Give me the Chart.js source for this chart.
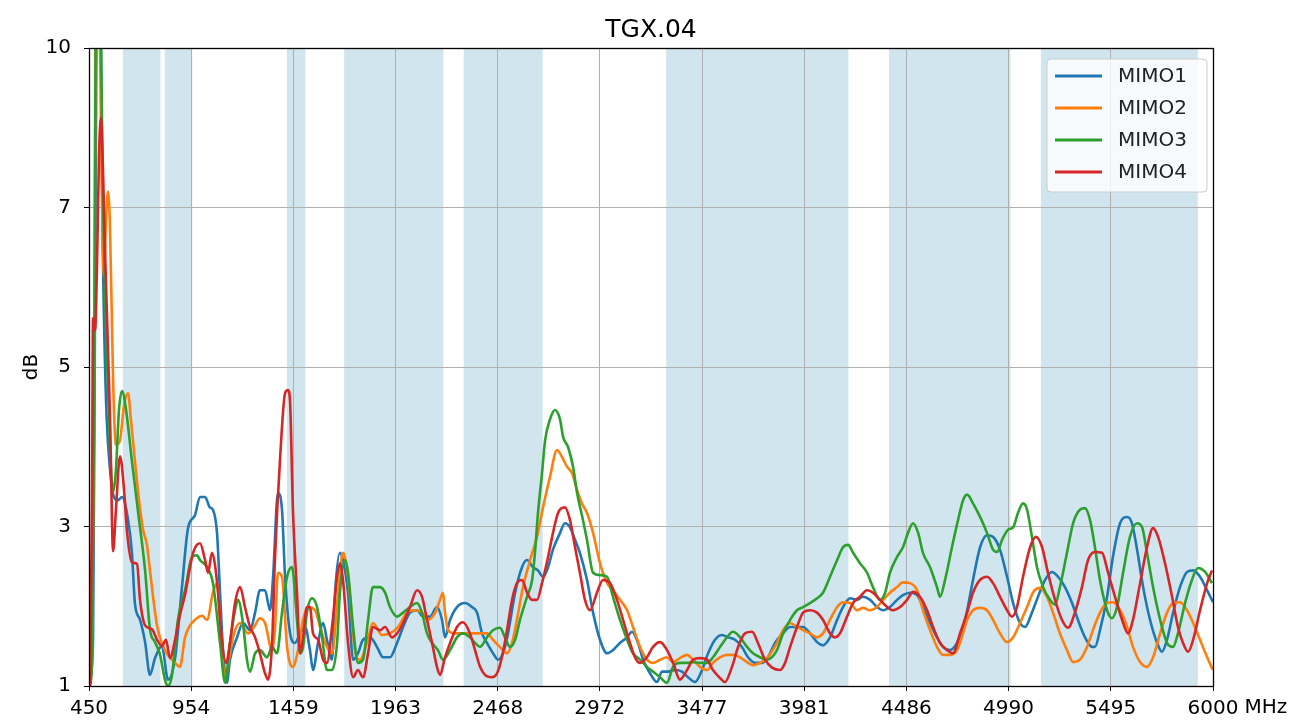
<!DOCTYPE html>
<html>
<head>
<meta charset="utf-8">
<title>TGX.04</title>
<script src="https://cdn.jsdelivr.net/npm/chart.js@4.4.1/dist/chart.umd.min.js"></script>
<style>
  html, body { margin: 0; padding: 0; background: #fff; }
  canvas { display: block; }
</style>
</head>
<body>
<canvas id="myChart" width="1310" height="722"></canvas>
<script>
// axis ticks (y ticks are evenly spaced in the original plot)
const xTicks = [450, 954, 1459, 1963, 2468, 2972, 3477, 3981, 4486, 4990, 5495, 6000];
const yTicks = [1, 3, 5, 7, 10];

// shaded frequency bands, MHz
const bands = [[617, 803], [824, 960], [1427, 1518], [1710, 2200], [2300, 2690], [3300, 4200], [4400, 5000], [5150, 5925]];

const seriesNames = ['MIMO1', 'MIMO2', 'MIMO3', 'MIMO4'];
const seriesColors = ['#1f77b4', '#ff7f0e', '#2ca02c', '#d62728'];

// [MHz, dB]
const mimo1 = [[455,1.08],[470,1.58],[480,5.84],[490,11],[504,11],[519,6.34],[534,4.59],[554,3.71],[573,3.37],[593,3.33],[613,3.37],[643,3.08],[662,2.67],[677,2.03],[702,1.83],[727,1.55],[751,1.14],[776,1.35],[810,1.50],[840,1.08],[875,1.35],[909,2.24],[939,2.98],[973,3.14],[998,3.37],[1023,3.37],[1047,3.24],[1062,3.21],[1082,2.92],[1097,2.17],[1112,1.45],[1131,1.04],[1146,1.33],[1181,1.61],[1210,1.79],[1245,1.70],[1270,1.92],[1294,2.20],[1319,2.20],[1344,1.95],[1359,2.37],[1383,3.42],[1403,3.21],[1418,2.37],[1443,1.66],[1467,1.54],[1492,1.66],[1517,1.74],[1541,1.45],[1556,1.20],[1581,1.54],[1606,1.79],[1625,1.58],[1650,1.33],[1665,2.17],[1689,2.67],[1704,2.58],[1729,2.17],[1754,1.33],[1778,1.41],[1803,1.58],[1838,1.61],[1872,1.49],[1902,1.36],[1936,1.36],[1971,1.54],[2001,1.74],[2035,1.92],[2070,1.95],[2099,1.87],[2134,1.87],[2168,1.99],[2193,1.83],[2208,1.61],[2233,1.83],[2267,1.99],[2307,2.04],[2341,1.99],[2366,1.92],[2391,1.66],[2415,1.54],[2445,1.41],[2470,1.33],[2494,1.41],[2519,1.66],[2554,2.17],[2588,2.49],[2613,2.58],[2642,2.49],[2667,2.45],[2692,2.37],[2717,2.49],[2741,2.71],[2776,2.92],[2800,3.04],[2825,2.99],[2850,2.83],[2874,2.67],[2909,2.33],[2939,1.92],[2973,1.58],[3008,1.41],[3037,1.45],[3072,1.54],[3107,1.61],[3131,1.68],[3161,1.54],[3186,1.33],[3220,1.16],[3255,1.05],[3279,1.18],[3309,1.18],[3344,1.20],[3378,1.18],[3408,1.11],[3442,1.05],[3477,1.20],[3507,1.41],[3541,1.58],[3576,1.64],[3605,1.61],[3640,1.58],[3674,1.49],[3704,1.36],[3739,1.29],[3773,1.29],[3803,1.36],[3837,1.54],[3877,1.66],[3912,1.74],[3946,1.74],[3976,1.74],[4010,1.66],[4045,1.55],[4074,1.51],[4109,1.61],[4144,1.83],[4173,1.99],[4208,2.10],[4242,2.08],[4272,2.12],[4307,2.08],[4341,1.99],[4371,1.95],[4405,1.99],[4440,2.08],[4469,2.14],[4504,2.17],[4539,2.14],[4568,1.99],[4603,1.79],[4637,1.61],[4667,1.49],[4702,1.45],[4736,1.54],[4766,1.74],[4786,1.95],[4815,2.33],[4850,2.74],[4884,2.89],[4914,2.87],[4948,2.71],[4983,2.37],[5013,2.04],[5047,1.79],[5072,1.74],[5106,1.92],[5136,2.12],[5171,2.33],[5205,2.43],[5235,2.37],[5269,2.24],[5304,2.04],[5333,1.83],[5368,1.61],[5403,1.49],[5417,1.49],[5442,1.70],[5477,2.12],[5506,2.62],[5541,3.04],[5576,3.12],[5600,3.04],[5625,2.71],[5655,2.24],[5689,1.83],[5724,1.54],[5748,1.43],[5773,1.58],[5803,1.92],[5837,2.24],[5872,2.43],[5902,2.45],[5936,2.37],[5971,2.20],[6000,2.05]];

const mimo2 = [[455,1.18],[465,1.45],[475,4.59],[485,11],[499,11],[514,7.15],[524,6.14],[534,6.85],[544,7.30],[554,6.72],[569,4.84],[583,4.02],[603,4.08],[623,4.52],[643,4.67],[657,4.34],[677,3.82],[697,3.33],[717,2.96],[736,2.77],[751,2.45],[786,1.76],[825,1.45],[875,1.29],[899,1.24],[924,1.61],[949,1.76],[973,1.83],[1008,1.88],[1033,1.83],[1062,2.17],[1082,2.29],[1097,1.83],[1122,1.08],[1141,1.33],[1161,1.61],[1196,1.79],[1235,1.66],[1265,1.74],[1294,1.85],[1319,1.79],[1354,1.45],[1368,1.70],[1383,2.42],[1403,2.37],[1428,1.49],[1457,1.24],[1482,1.45],[1507,1.83],[1531,1.99],[1566,1.95],[1591,1.74],[1625,1.49],[1650,1.41],[1680,2.17],[1704,2.67],[1729,2.37],[1763,1.45],[1788,1.33],[1823,1.54],[1852,1.79],[1897,1.64],[1936,1.66],[1976,1.74],[2020,1.92],[2060,1.95],[2094,1.92],[2124,1.83],[2159,1.92],[2183,2.08],[2198,2.17],[2208,1.92],[2223,1.70],[2257,1.66],[2317,1.66],[2366,1.66],[2415,1.66],[2445,1.58],[2479,1.49],[2514,1.41],[2539,1.54],[2563,1.83],[2593,2.24],[2628,2.58],[2662,2.87],[2692,3.24],[2726,3.62],[2761,3.96],[2786,3.87],[2810,3.75],[2835,3.67],[2860,3.46],[2884,3.29],[2909,3.17],[2939,2.92],[2973,2.54],[3008,2.29],[3037,2.20],[3072,2.08],[3107,1.95],[3136,1.74],[3171,1.49],[3205,1.33],[3235,1.29],[3270,1.33],[3304,1.36],[3334,1.30],[3368,1.35],[3403,1.39],[3433,1.33],[3467,1.24],[3502,1.20],[3531,1.29],[3566,1.36],[3600,1.39],[3630,1.39],[3665,1.36],[3699,1.30],[3729,1.26],[3763,1.29],[3798,1.35],[3847,1.54],[3877,1.70],[3912,1.79],[3946,1.74],[3976,1.70],[4010,1.66],[4045,1.61],[4074,1.66],[4109,1.83],[4144,1.99],[4173,2.05],[4208,2.04],[4242,1.95],[4272,1.98],[4307,1.95],[4341,1.99],[4371,2.08],[4405,2.17],[4440,2.24],[4469,2.30],[4504,2.29],[4539,2.20],[4568,1.95],[4603,1.70],[4637,1.49],[4667,1.39],[4702,1.39],[4736,1.45],[4766,1.66],[4786,1.83],[4815,1.95],[4850,1.98],[4884,1.95],[4914,1.83],[4948,1.66],[4983,1.55],[5013,1.61],[5047,1.79],[5082,1.99],[5111,2.17],[5146,2.23],[5180,2.12],[5210,1.92],[5244,1.66],[5279,1.45],[5309,1.30],[5343,1.33],[5378,1.49],[5407,1.70],[5442,1.92],[5477,2.04],[5506,2.05],[5541,1.95],[5576,1.74],[5605,1.49],[5640,1.30],[5674,1.24],[5704,1.36],[5739,1.66],[5773,1.92],[5803,2.04],[5837,2.05],[5872,1.95],[5902,1.79],[5936,1.58],[5971,1.36],[6000,1.20]];

const mimo3 = [[455,1.00],[465,1.33],[475,4.59],[485,11],[504,11],[519,7.15],[534,5.46],[554,3.96],[569,3.43],[583,3.71],[598,4.46],[613,4.70],[633,4.46],[662,3.82],[692,3.19],[727,2.45],[751,1.71],[776,1.55],[801,1.39],[825,1.08],[840,1.00],[860,1.14],[889,1.83],[924,2.20],[959,2.62],[983,2.64],[998,2.58],[1033,2.49],[1062,2.29],[1097,1.54],[1122,1.04],[1146,1.54],[1171,1.95],[1186,2.08],[1210,1.79],[1230,1.33],[1245,1.18],[1270,1.41],[1294,1.45],[1329,1.36],[1354,1.49],[1378,1.41],[1403,1.92],[1428,2.37],[1452,2.49],[1477,1.83],[1492,1.41],[1507,1.49],[1526,1.92],[1551,2.10],[1576,1.99],[1601,1.61],[1625,1.20],[1650,1.20],[1675,1.54],[1689,2.17],[1714,2.58],[1729,2.42],[1754,1.74],[1778,1.29],[1803,1.33],[1828,1.83],[1852,2.24],[1887,2.24],[1912,2.17],[1936,1.99],[1971,1.87],[2001,1.92],[2035,1.99],[2070,2.04],[2094,1.92],[2119,1.66],[2144,1.54],[2173,1.45],[2198,1.33],[2233,1.45],[2267,1.61],[2297,1.66],[2331,1.61],[2356,1.54],[2381,1.49],[2415,1.61],[2445,1.70],[2479,1.73],[2504,1.61],[2529,1.49],[2554,1.58],[2578,1.83],[2613,2.12],[2638,2.33],[2652,2.67],[2667,3.17],[2687,3.67],[2702,4.08],[2726,4.34],[2751,4.46],[2776,4.34],[2791,4.12],[2815,4.00],[2840,3.75],[2860,3.42],[2884,3.14],[2909,2.83],[2939,2.42],[2973,2.39],[3008,2.37],[3037,2.12],[3072,1.83],[3107,1.58],[3136,1.41],[3171,1.33],[3205,1.24],[3235,1.18],[3270,1.11],[3304,1.04],[3334,1.24],[3368,1.29],[3403,1.29],[3433,1.30],[3467,1.29],[3502,1.29],[3531,1.36],[3566,1.49],[3600,1.61],[3630,1.68],[3665,1.61],[3699,1.49],[3729,1.41],[3763,1.36],[3798,1.33],[3847,1.45],[3877,1.66],[3912,1.83],[3946,1.95],[3976,1.99],[4010,2.04],[4045,2.10],[4074,2.17],[4109,2.37],[4144,2.58],[4173,2.74],[4198,2.77],[4223,2.67],[4257,2.54],[4292,2.42],[4321,2.24],[4356,2.08],[4381,2.17],[4405,2.42],[4440,2.62],[4469,2.74],[4494,2.92],[4519,3.04],[4544,2.92],[4568,2.67],[4603,2.49],[4637,2.24],[4652,2.12],[4677,2.33],[4711,2.74],[4741,3.08],[4766,3.33],[4786,3.40],[4815,3.29],[4850,3.12],[4884,2.92],[4914,2.71],[4934,2.68],[4958,2.83],[4988,2.96],[5013,2.99],[5037,3.17],[5062,3.29],[5082,3.21],[5106,2.87],[5131,2.49],[5161,2.24],[5195,2.08],[5220,2.02],[5244,2.24],[5279,2.67],[5309,3.04],[5343,3.21],[5368,3.23],[5393,3.08],[5417,2.74],[5442,2.33],[5477,1.95],[5501,1.85],[5526,1.99],[5556,2.42],[5590,2.87],[5625,3.04],[5650,2.99],[5674,2.67],[5704,2.24],[5739,1.83],[5773,1.54],[5803,1.49],[5827,1.66],[5862,2.04],[5896,2.33],[5926,2.48],[5961,2.43],[5995,2.29]];

const mimo4 = [[455,1.00],[465,3.33],[470,5.61],[480,5.46],[490,6.34],[499,7.90],[509,8.69],[519,7.71],[529,6.47],[544,5.21],[554,4.35],[569,2.69],[583,3.21],[603,3.88],[623,3.46],[638,2.93],[662,2.55],[687,2.53],[702,2.08],[727,1.76],[761,1.71],[786,1.58],[810,1.50],[830,1.58],[850,1.35],[875,1.58],[899,1.89],[924,2.14],[964,2.67],[998,2.79],[1023,2.58],[1038,2.42],[1057,2.67],[1072,2.52],[1087,2.17],[1107,1.54],[1127,1.29],[1146,1.54],[1171,2.04],[1196,2.24],[1220,1.99],[1245,1.74],[1270,1.61],[1294,1.41],[1319,1.16],[1334,1.08],[1354,1.54],[1368,2.58],[1393,3.83],[1418,4.67],[1433,4.71],[1443,4.55],[1457,3.21],[1477,2.17],[1492,1.41],[1507,1.61],[1526,1.99],[1541,1.99],[1556,1.66],[1581,1.58],[1606,1.33],[1625,1.29],[1650,1.74],[1675,2.37],[1689,2.54],[1704,2.33],[1729,1.54],[1754,1.11],[1778,1.20],[1803,1.11],[1828,1.41],[1852,1.74],[1887,1.70],[1912,1.74],[1946,1.61],[1971,1.66],[2001,1.79],[2035,1.99],[2070,2.20],[2094,2.12],[2119,1.83],[2144,1.54],[2168,1.24],[2183,1.14],[2208,1.36],[2233,1.54],[2267,1.74],[2297,1.80],[2331,1.66],[2356,1.45],[2381,1.24],[2405,1.14],[2440,1.11],[2465,1.16],[2489,1.36],[2514,1.70],[2539,2.08],[2563,2.29],[2588,2.33],[2613,2.17],[2638,2.08],[2662,2.08],[2687,2.29],[2717,2.62],[2741,2.92],[2766,3.17],[2800,3.24],[2825,3.08],[2850,2.74],[2874,2.42],[2899,2.08],[2924,1.95],[2958,2.17],[2988,2.33],[3023,2.29],[3057,2.08],[3087,1.83],[3121,1.54],[3146,1.36],[3171,1.29],[3205,1.36],[3235,1.49],[3270,1.55],[3304,1.45],[3334,1.29],[3368,1.08],[3403,1.20],[3433,1.33],[3467,1.35],[3502,1.33],[3531,1.20],[3566,1.10],[3590,1.05],[3625,1.24],[3655,1.49],[3689,1.66],[3724,1.68],[3753,1.54],[3788,1.33],[3823,1.23],[3862,1.20],[3887,1.29],[3912,1.49],[3946,1.74],[3976,1.92],[4010,1.95],[4045,1.92],[4074,1.83],[4109,1.66],[4134,1.61],[4158,1.66],[4193,1.87],[4223,2.04],[4257,2.12],[4292,2.20],[4321,2.17],[4356,2.08],[4391,1.99],[4420,1.95],[4455,1.99],[4489,2.08],[4519,2.18],[4553,2.12],[4588,1.95],[4618,1.74],[4652,1.54],[4687,1.45],[4716,1.41],[4751,1.66],[4786,1.92],[4815,2.17],[4850,2.33],[4884,2.37],[4914,2.29],[4948,2.12],[4983,1.95],[5008,1.87],[5032,1.99],[5062,2.37],[5097,2.74],[5126,2.87],[5156,2.74],[5185,2.42],[5220,2.08],[5254,1.83],[5284,1.73],[5318,1.92],[5353,2.24],[5383,2.58],[5417,2.68],[5452,2.67],[5482,2.42],[5516,2.12],[5551,1.83],[5580,1.66],[5605,1.83],[5640,2.29],[5674,2.74],[5704,2.98],[5729,2.87],[5763,2.54],[5798,2.12],[5827,1.74],[5852,1.54],[5877,1.43],[5902,1.58],[5936,1.95],[5971,2.29],[5995,2.45]];

const allSeries = [mimo1, mimo2, mimo3, mimo4];

// dB -> position on the evenly spaced y axis (piecewise linear between ticks)
function toAxis(v) {
    let i = 0;
    while (i < yTicks.length - 2 && v > yTicks[i + 1]) i++;
    return i + (v - yTicks[i]) / (yTicks[i + 1] - yTicks[i]);
}

const font = 'DejaVu Sans';

const decorPlugin = {
    id: 'decor',
    beforeDraw(chart) {
        const {ctx, chartArea: a, scales: {x}} = chart;
        ctx.save();
        ctx.beginPath();
        ctx.rect(a.left, a.top, a.right - a.left, a.bottom - a.top);
        ctx.clip();
        ctx.fillStyle = '#d1e5ee';
        bands.forEach(b => {
            const x0 = x.getPixelForValue(b[0]);
            const x1 = x.getPixelForValue(b[1]);
            ctx.fillRect(x0, a.top, x1 - x0, a.bottom - a.top);
        });
        ctx.restore();
    },
    afterDraw(chart) {
        const {ctx, chartArea: a} = chart;
        ctx.save();
        // frame
        ctx.strokeStyle = '#000';
        ctx.lineWidth = 1.3;
        ctx.strokeRect(a.left + 0.5, a.top + 0.5, a.right - a.left, a.bottom - a.top);

        // title
        ctx.fillStyle = '#000';
        ctx.textAlign = 'center';
        ctx.textBaseline = 'alphabetic';
        ctx.font = '25px "' + font + '"';
        ctx.fillText('TGX.04', (a.left + a.right) / 2, 37);

        // y axis title
        ctx.font = '20px "' + font + '"';
        ctx.save();
        ctx.translate(37, (a.top + a.bottom) / 2);
        ctx.rotate(-Math.PI / 2);
        ctx.textBaseline = 'alphabetic';
        ctx.fillText('dB', 0, 0);
        ctx.restore();

        // unit after the last x tick
        ctx.textAlign = 'left';
        ctx.textBaseline = 'top';
        const half = ctx.measureText('6000').width / 2;
        ctx.fillText('MHz', a.right + half + 6, a.bottom + 12);

        // legend
        const lx = a.right - 166, ly = a.top + 11, lw = 160, lh = 133;
        ctx.beginPath();
        ctx.roundRect(lx, ly, lw, lh, 4);
        ctx.fillStyle = 'rgba(255,255,255,0.8)';
        ctx.fill();
        ctx.strokeStyle = '#cccccc';
        ctx.lineWidth = 1;
        ctx.stroke();
        ctx.textBaseline = 'middle';
        ctx.textAlign = 'left';
        chart.data.datasets.forEach((ds, i) => {
            const yy = ly + 17 + i * 32;
            ctx.strokeStyle = ds.borderColor;
            ctx.lineWidth = 2.8;
            ctx.beginPath();
            ctx.moveTo(lx + 8, yy);
            ctx.lineTo(lx + 55, yy);
            ctx.stroke();
            ctx.fillStyle = '#222';
            ctx.fillText(ds.label, lx + 71, yy + 1);
        });
        ctx.restore();
    }
};

const ctx = document.getElementById('myChart');
const myChart = new Chart(ctx, {
    type: 'line',
    data: {
        datasets: allSeries.map((s, i) => ({
            label: seriesNames[i],
            data: s.map(p => ({x: p[0], y: toAxis(p[1])})),
            borderColor: seriesColors[i],
            backgroundColor: seriesColors[i],
            borderWidth: 2.6,
            pointRadius: 0,
            cubicInterpolationMode: 'monotone',
            order: 3 - i
        }))
    },
    options: {
        responsive: false,
        animation: false,
        devicePixelRatio: 1,
        layout: { padding: { top: 48, right: 97, left: 0, bottom: 0 } },
        plugins: { legend: { display: false }, tooltip: { enabled: false } },
        scales: {
            x: {
                type: 'linear',
                min: 450,
                max: 6000,
                afterBuildTicks: s => { s.ticks = xTicks.map(v => ({value: v})); },
                afterFit: s => { s.height = 36; },
                grid: { color: '#b0b0b0', lineWidth: 1, tickLength: 5, tickColor: '#000' },
                border: { color: '#000', width: 1 },
                ticks: {
                    color: '#000',
                    font: { family: font, size: 20 },
                    padding: 6,
                    maxRotation: 0,
                    autoSkip: false,
                    callback: v => String(v)
                }
            },
            y: {
                type: 'linear',
                min: 0,
                max: 4,
                afterBuildTicks: s => { s.ticks = yTicks.map((v, i) => ({value: i})); },
                afterFit: s => { s.width = 89; },
                grid: { color: '#b0b0b0', lineWidth: 1, tickLength: 5, tickColor: '#000' },
                border: { color: '#000', width: 1 },
                ticks: {
                    color: '#000',
                    font: { family: font, size: 20 },
                    padding: 13,
                    callback: v => String(yTicks[v])
                }
            }
        }
    },
    plugins: [decorPlugin]
});
</script>
</body>
</html>
